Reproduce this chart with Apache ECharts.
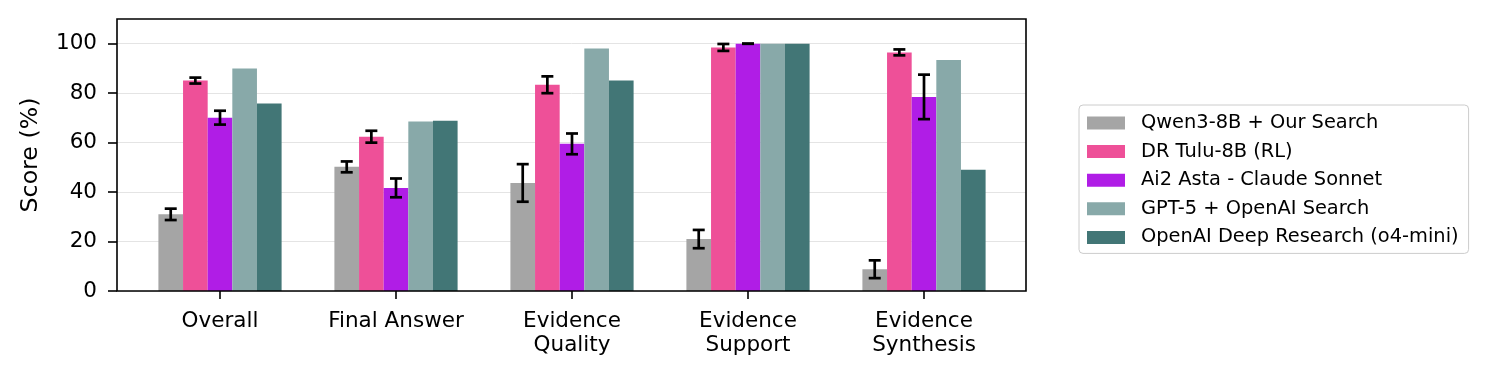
<!DOCTYPE html>
<html>
<head>
<meta charset="utf-8">
<script src="https://cdn.jsdelivr.net/npm/echarts@6/dist/echarts.min.js"></script>
<style>
html,body{margin:0;padding:0;background:#fff;}
#chart{width:1488px;height:374px;}
</style>
</head>
<body>
<div id="chart"></div>
<script>
const categories = ['Overall', 'Final Answer', 'Evidence\nQuality', 'Evidence\nSupport', 'Evidence\nSynthesis'];
const seriesNames = ['Qwen3-8B + Our Search', 'DR Tulu-8B (RL)', 'Ai2 Asta - Claude Sonnet', 'GPT-5 + OpenAI Search', 'OpenAI Deep Research (o4-mini)'];
const qwen = [31.0, 50.2, 43.7, 21.0, 8.8];
const qwenErr = [2.3, 2.2, 7.6, 3.7, 3.6];
const tulu = [85.1, 62.4, 83.4, 98.5, 96.5];
const tuluErr = [1.2, 2.4, 3.4, 1.4, 1.2];
const asta = [70.1, 41.7, 59.5, 100, 78.5];
const astaErr = [2.8, 3.8, 4.2, 0, 9.0];
const gpt5 = [90.0, 68.5, 98.1, 100, 93.4];
const odr = [75.8, 68.9, 85.1, 100, 49.0];
const yTicks = [0, 20, 40, 60, 80, 100];

const colors = ['#a5a5a5', '#ee5098', '#b01de6', '#88a9a9', '#427676'];
const values = [qwen, tulu, asta, gpt5, odr];
const errors = [qwenErr, tuluErr, astaErr, null, null];
const FONT = 'DejaVu Sans';

const errData = [];
errors.forEach((errs, s) => {
  if (!errs) return;
  errs.forEach((e, c) => errData.push([c, values[s][c], e, s]));
});

const barSeries = seriesNames.map((name, s) => ({
  name: name,
  type: 'bar',
  xAxisIndex: 1,
  yAxisIndex: 1,
  barWidth: '14%',
  barGap: '0%',
  itemStyle: { color: colors[s] },
  data: values[s],
  z: 2
}));

const chart = echarts.init(document.getElementById('chart'), null, { renderer: 'canvas' });
chart.setOption({
  animation: false,
  backgroundColor: '#fff',
  textStyle: { fontFamily: FONT },
  grid: [
    { left: 117, top: 19, width: 909, height: 272, show: true, borderColor: '#000', borderWidth: 1.6, backgroundColor: 'transparent', z: 5 },
    { left: 132, top: 19, width: 880, height: 272 }
  ],
  xAxis: [
    { gridIndex: 0, type: 'value', min: 0, max: 1, show: false },
    {
      gridIndex: 1, type: 'category', data: categories,
      axisLine: { show: false },
      axisTick: { show: true, alignWithLabel: true, length: 8, lineStyle: { color: '#000', width: 1.6 } },
      axisLabel: { color: '#000', fontFamily: FONT, fontSize: 21.5, lineHeight: 24.5, margin: 18, interval: 0 },
      splitLine: { show: false }
    }
  ],
  yAxis: [
    {
      gridIndex: 0, type: 'value', min: 0, max: 110,
      name: 'Score (%)', nameLocation: 'middle', nameGap: 74, nameRotate: 90,
      nameTextStyle: { color: '#000', fontFamily: FONT, fontSize: 23.7 },
      axisLine: { show: false },
      axisTick: { show: true, length: 9, customValues: yTicks, lineStyle: { color: '#000', width: 1.6 } },
      axisLabel: { color: '#000', fontFamily: FONT, fontSize: 21.5, margin: 20, customValues: yTicks },
      splitLine: { show: true, lineStyle: { color: '#e4e4e4', width: 1 } }
    },
    { gridIndex: 1, type: 'value', min: 0, max: 110, show: false }
  ],
  legend: {
    data: seriesNames,
    orient: 'vertical',
    left: 1079,
    top: 105,
    padding: [8, 10, 6, 8],
    itemWidth: 38,
    itemHeight: 13,
    itemGap: 8.6,
    icon: 'rect',
    borderColor: '#cccccc',
    borderWidth: 1,
    borderRadius: 4,
    backgroundColor: '#fff',
    textStyle: { color: '#000', fontFamily: FONT, fontSize: 19.4, lineHeight: 20, padding: [0, 0, 0, 11] }
  },
  series: barSeries.concat([{
    name: 'errorbars',
    type: 'custom',
    xAxisIndex: 1,
    yAxisIndex: 1,
    z: 3,
    silent: true,
    encode: { x: 0, y: 1 },
    data: errData,
    renderItem: function (params, api) {
      const c = api.value(0), v = api.value(1), e = api.value(2), s = api.value(3);
      const band = api.size([1, 0])[0];
      const bw = band * 0.14;
      const cx = api.coord([c, v])[0] + (s - 2) * bw;
      const yt = api.coord([c, v + e])[1];
      const yb = api.coord([c, v - e])[1];
      const cap = 6;
      const st = { stroke: '#000', lineWidth: 2.7 };
      return {
        type: 'group',
        children: [
          { type: 'line', shape: { x1: cx, y1: yt, x2: cx, y2: yb }, style: st },
          { type: 'line', shape: { x1: cx - cap, y1: yt, x2: cx + cap, y2: yt }, style: st },
          { type: 'line', shape: { x1: cx - cap, y1: yb, x2: cx + cap, y2: yb }, style: st }
        ]
      };
    }
  }])
});
</script>
</body>
</html>
